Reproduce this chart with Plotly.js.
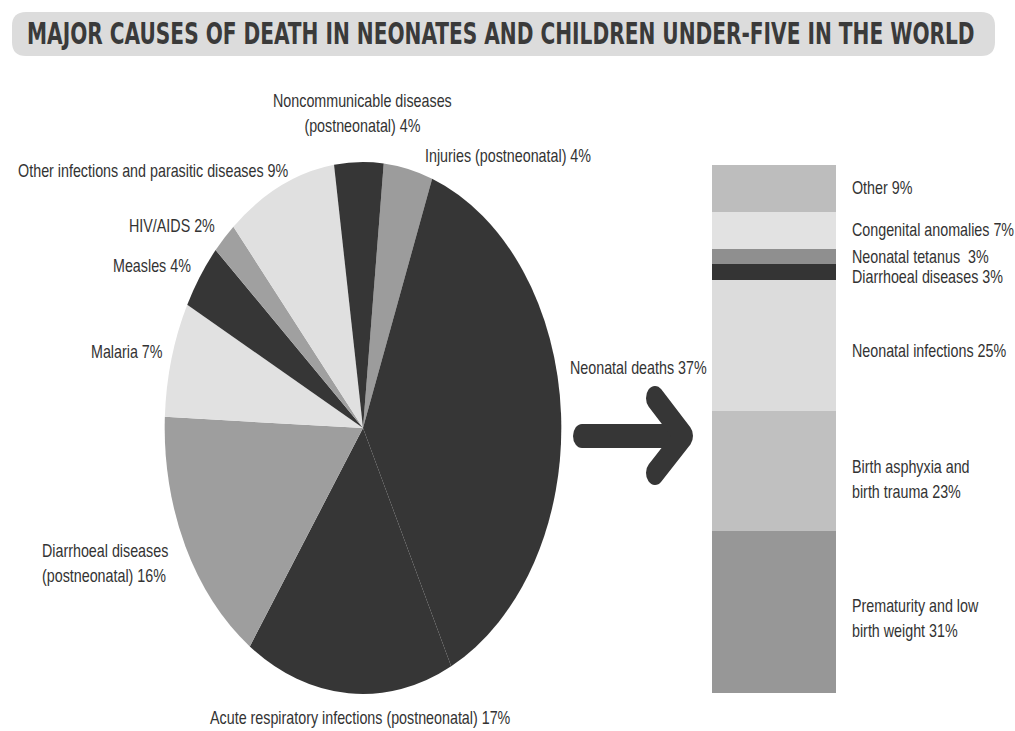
<!DOCTYPE html>
<html>
<head>
<meta charset="utf-8">
<script src="https://cdn.plot.ly/plotly-3.0.1.min.js"></script>
<style>
  html, body { margin: 0; padding: 0; background: #fff; }
  #wrap { width: 1015px; height: 731px; position: relative; }
  #chart { position: absolute; left: 0; top: 0; width: 1015px; height: 545px; transform: scaleY(1.3413); transform-origin: 0 0; }
</style>
</head>
<body>
<div id="wrap"><div id="chart"></div></div>
<script>
// ---------- DATA ----------
const titleText = "MAJOR CAUSES OF DEATH IN NEONATES AND CHILDREN UNDER-FIVE IN THE WORLD";

// Pie: clockwise from top
const pieLabels = [
  "Injuries (postneonatal)",
  "Neonatal deaths",
  "Acute respiratory infections (postneonatal)",
  "Diarrhoeal diseases<br>(postneonatal)",
  "Malaria",
  "Measles",
  "HIV/AIDS",
  "Other infections and parasitic diseases",
  "Noncommunicable diseases<br>(postneonatal)"
];
const pieValues = [4, 37, 17, 16, 7, 4, 2, 9, 4];
const pieColors = ["#9c9c9c", "#363636", "#363636", "#9e9e9e", "#e1e1e1", "#363636", "#a0a0a0", "#e0e0e0", "#363636"];

// Neonatal breakdown: bottom to top
const neoLabels = [
  "Prematurity and low<br>birth weight",
  "Birth asphyxia and<br>birth trauma",
  "Neonatal infections",
  "Diarrhoeal diseases",
  "Neonatal tetanus ",
  "Congenital anomalies",
  "Other"
];
const neoValues = [31, 23, 25, 3, 3, 7, 9];
const neoColors = ["#979797", "#c0c0c0", "#dcdcdc", "#343434", "#8f8f8f", "#e2e2e2", "#bdbdbd"];

// ---------- LAYOUT HELPERS ----------
const W = 1015, H = 545, S = 731 / 545;
const px = x => x / W;                 // reference x pixel -> paper
const py = y => 1 - (y / S) / H;       // reference y pixel -> paper

// label placements (reference pixels) for pie labels, same order as pieLabels
const pieLabelPos = [
  {x: 423, y: 155, xa: "left",   al: "left"},
  {x: 568, y: 368, xa: "left",   al: "left"},
  {x: 360, y: 718, xa: "center", al: "center"},
  {x: 40,  y: 563, xa: "left",   al: "left"},
  {x: 165, y: 352, xa: "right",  al: "right"},
  {x: 193, y: 265, xa: "right",  al: "right"},
  {x: 217, y: 226, xa: "right",  al: "right"},
  {x: 290, y: 170, xa: "right",  al: "right"},
  {x: 362, y: 114, xa: "center", al: "center"}
];
// label y positions (reference pixels) for bar labels, same order as neoLabels
const neoLabelY = [618, 480, 350, 276, 256, 230, 188];

const FONT = "'Liberation Sans', Arial, sans-serif";
const NARROW = "'Liberation Sans Narrow', 'DejaVu Sans Condensed', 'Arial Narrow', sans-serif";
const textColor = "#333333";
const LS = 14.3;

const annotations = [];
pieLabels.forEach((lab, i) => {
  const p = pieLabelPos[i];
  annotations.push({
    xref: "paper", yref: "paper", x: px(p.x), y: py(p.y),
    xanchor: p.xa, yanchor: "middle", align: p.al, showarrow: false,
    text: lab + " " + pieValues[i] + "%",
    font: {family: FONT, size: LS, color: textColor}
  });
});
neoLabels.forEach((lab, i) => {
  annotations.push({
    xref: "paper", yref: "paper", x: px(850), y: py(neoLabelY[i]),
    xanchor: "left", yanchor: "middle", align: "left", showarrow: false,
    text: lab + " " + neoValues[i] + "%",
    font: {family: FONT, size: LS, color: textColor}
  });
});
// title
annotations.push({
  xref: "paper", yref: "paper", x: px(501), y: py(33),
  xanchor: "center", yanchor: "middle", showarrow: false,
  text: "<b>" + titleText + "</b>",
  font: {family: NARROW, size: 22.4, color: "#3a3a3a"}
});

// rounded title box path (paper coords)
function roundRect(x0, y0, x1, y1, r) {
  const rx = r, ry = r / S;
  const X = v => px(v), Y = v => py(v);
  return `M ${X(x0 + rx)} ${Y(y0)} L ${X(x1 - rx)} ${Y(y0)} Q ${X(x1)} ${Y(y0)} ${X(x1)} ${Y(y0 + r)} ` +
         `L ${X(x1)} ${Y(y1 - r)} Q ${X(x1)} ${Y(y1)} ${X(x1 - rx)} ${Y(y1)} ` +
         `L ${X(x0 + rx)} ${Y(y1)} Q ${X(x0)} ${Y(y1)} ${X(x0)} ${Y(y1 - r)} ` +
         `L ${X(x0)} ${Y(y0 + r)} Q ${X(x0)} ${Y(y0)} ${X(x0 + rx)} ${Y(y0)} Z`;
}

const shapes = [
  {type: "path", xref: "paper", yref: "paper", layer: "below",
   path: roundRect(12, 12, 995, 56, 14), fillcolor: "#dcdcdc", line: {width: 0}},
  // arrow shaft
  {type: "path", xref: "paper", yref: "paper",
   path: `M ${px(582)} ${py(436)} L ${px(680)} ${py(436)}`,
   line: {color: "#363636", width: 18}},
  // arrow head
  {type: "path", xref: "paper", yref: "paper",
   path: `M ${px(655)} ${py(398)} L ${px(684)} ${py(436)} L ${px(655)} ${py(473)}`,
   line: {color: "#363636", width: 18}}
];

// ---------- TRACES ----------
const traces = [{
  type: "pie",
  labels: pieLabels.map(s => s.replace("<br>", " ")),
  values: pieValues,
  sort: false,
  direction: "clockwise",
  rotation: 6,
  marker: {colors: pieColors, line: {width: 0}},
  textinfo: "none",
  hoverinfo: "label+percent",
  showlegend: false,
  domain: {x: [px(164), px(562)], y: [py(694), py(162)]}
}];
neoLabels.forEach((lab, i) => {
  traces.push({
    type: "bar", x: ["Neonatal"], y: [neoValues[i]],
    name: lab.replace("<br>", " "),
    marker: {color: neoColors[i], line: {width: 0}},
    width: 1, showlegend: false, hoverinfo: "name+y",
    xaxis: "x", yaxis: "y"
  });
});

const layout = {
  width: W, height: H,
  margin: {l: 0, r: 0, t: 0, b: 0},
  paper_bgcolor: "#ffffff", plot_bgcolor: "rgba(0,0,0,0)",
  barmode: "stack", bargap: 0,
  showlegend: false,
  xaxis: {domain: [px(712), px(836)], range: [-0.5, 0.5], visible: false, fixedrange: true},
  yaxis: {domain: [py(693), py(165)], range: [0, 101], visible: false, fixedrange: true},
  shapes: shapes,
  annotations: annotations
};

Plotly.newPlot("chart", traces, layout, {staticPlot: true, displayModeBar: false}).then(() => {
  document.querySelectorAll("#chart .shapelayer path").forEach(p => {
    p.style.strokeLinecap = "round";
    p.style.strokeLinejoin = "round";
  });
});
</script>
</body>
</html>
